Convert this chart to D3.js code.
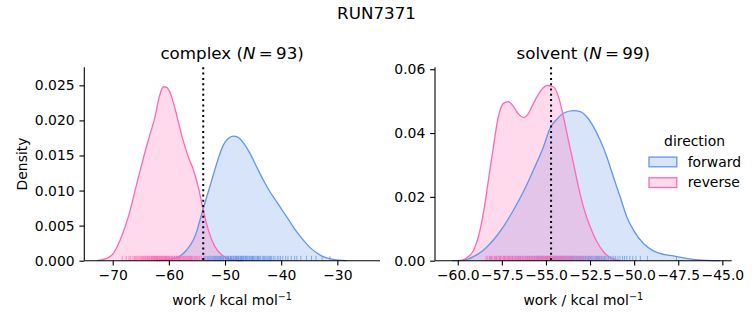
<!DOCTYPE html>
<html><head><meta charset="utf-8">
<script src="https://cdn.jsdelivr.net/npm/d3@7"></script>
<style>
body{margin:0;background:#fff}
svg{display:block}
text{font-family:"DejaVu Sans",sans-serif;fill:#000}
</style>
</head><body>
<svg id="chart" width="753" height="325"></svg>
<script>
// ---------------- data ----------------
const suptitle = "RUN7371";
const directions = ["forward", "reverse"];
const phases = ["complex", "solvent"];
const phaseN = [93, 99];

const complexXTicks = [-70, -60, -50, -40, -30];
const complexYTicks = [0, 0.005, 0.010, 0.015, 0.020, 0.025];
const solventXTicks = [-60, -57.5, -55, -52.5, -50, -47.5, -45];
const solventYTicks = [0, 0.02, 0.04, 0.06];

// dotted vertical marker (work estimate)
const complexMarker = -53.88;
const solventMarker = -54.71;

// KDE curves: [work, density]
const complexForwardKDE = [
  [-62.17,0],[-60.39,0.00019],[-59.2,0.00029],[-58.02,0.00067],[-56.83,0.00152],[-55.65,0.00295],
  [-55.05,0.00414],[-54.46,0.0058],[-53.87,0.00746],[-52.98,0.00983],[-52.09,0.01221],[-51.2,0.01458],
  [-50.31,0.01648],[-49.43,0.01743],[-48.53,0.01777],[-47.65,0.01758],[-46.75,0.01682],[-45.56,0.0153],
  [-44.38,0.0134],[-43.19,0.0115],[-42.0,0.00983],[-40.82,0.00841],[-39.63,0.00698],[-38.45,0.00556],
  [-37.26,0.00413],[-36.07,0.00295],[-34.89,0.0019],[-33.7,0.00114],[-32.51,0.00057],[-30.74,0.00019],
  [-28.36,0]
];
const complexReverseKDE = [
  [-72.85,0],[-71.07,0.00033],[-69.88,0.00105],[-68.7,0.0029],[-67.81,0.0048],[-66.92,0.0071],
  [-66.03,0.0100],[-65.14,0.0128],[-64.25,0.0155],[-63.36,0.0180],[-62.47,0.0205],[-61.7,0.0234],
  [-60.98,0.0248],[-60.39,0.0247],[-59.8,0.0240],[-58.91,0.0217],[-57.72,0.0179],[-56.54,0.0148],
  [-55.65,0.0130],[-54.76,0.0105],[-53.87,0.0072],[-52.98,0.0044],[-51.79,0.0020],[-50.31,0.00067],
  [-48.53,0.0001],[-46.75,0]
];
const solventForwardKDE = [
  [-60.34,0],[-59.68,0.0002],[-59.11,0.0013],[-58.55,0.0033],[-57.98,0.0065],[-57.41,0.0107],
  [-56.84,0.0159],[-56.28,0.0216],[-55.71,0.0284],[-55.14,0.0357],[-54.77,0.0415],[-54.39,0.0443],
  [-54.01,0.0462],[-53.44,0.0470],[-53.06,0.0467],[-52.69,0.0451],[-52.31,0.0420],[-51.93,0.0378],
  [-51.55,0.0326],[-51.18,0.0263],[-50.8,0.0201],[-50.42,0.0138],[-50.04,0.0096],[-49.47,0.0054],
  [-48.91,0.0031],[-48.34,0.0020],[-47.77,0.0015],[-47.21,0.0009],[-46.64,0.0004],[-45.88,0.0001],
  [-45.13,0]
];
const solventReverseKDE = [
  [-59.77,0],[-59.4,0.0013],[-59.1,0.0033],[-58.83,0.0075],[-58.55,0.0148],[-58.26,0.0253],
  [-57.98,0.0357],[-57.7,0.0451],[-57.41,0.0493],[-57.13,0.0498],[-56.84,0.0483],[-56.56,0.0460],
  [-56.28,0.0449],[-55.99,0.0462],[-55.71,0.0493],[-55.33,0.0530],[-54.95,0.0549],[-54.58,0.0545],
  [-54.29,0.0514],[-54.01,0.0451],[-53.73,0.0378],[-53.44,0.0305],[-53.16,0.0232],[-52.88,0.0169],
  [-52.5,0.0107],[-52.12,0.0060],[-51.74,0.0028],[-51.36,0.0010],[-50.8,0]
];

// individual work values (rug)
const complexForwardWork = [
  -53.7,-53.4,-53.1,-52.9,-52.7,-52.5,-52.3,-52.1,-51.9,-51.7,-51.5,-51.3,-51.2,-51.05,
  -50.9,-50.8,-50.6,-50.5,-50.3,-50.2,-49.9,-49.8,-49.6,-49.5,-49.4,-49.3,-49.1,-49.02,
  -48.9,-48.8,-48.6,-48.5,-48.4,-48.2,-48.1,-48.02,-47.9,-47.8,-47.6,-47.5,-47.3,-47.2,-47.1,-47.02,
  -46.9,-46.7,-46.6,-46.4,-46.3,-46.2,-46.05,-45.9,-45.7,-45.6,-45.4,-45.3,-45.1,-45.02,
  -44.9,-44.7,-44.5,-44.3,-44.2,-44.05,-43.9,-43.7,-43.4,-43.2,-43.05,-42.9,-42.7,-42.5,-42.3,-42.1,
  -41.9,-41.7,-41.4,-41.1,-40.7,-40.4,-40.1,-39.7,-39.2,-38.8,-38.2,-37.6,-37.2,-36.5,-35.5,-34.6,
  -33.8,-32.7,-31.3
];
const complexReverseWork = [
  -68.3,-67.6,-67.1,-66.8,-66.4,-66.1,-65.9,-65.7,-65.5,-65.3,-65.1,-64.9,-64.7,-64.5,-64.3,-64.2,-64.05,
  -63.9,-63.8,-63.6,-63.5,-63.4,-63.2,-63.1,-63.05,-62.9,-62.8,-62.7,-62.6,-62.55,-62.4,-62.3,-62.2,-62.1,-62.05,
  -61.95,-61.8,-61.7,-61.6,-61.5,-61.4,-61.3,-61.2,-61.1,-61.05,-60.9,-60.8,-60.7,-60.65,-60.6,-60.5,-60.4,
  -60.3,-60.2,-60.1,-60.02,-59.9,-59.8,-59.6,-59.5,-59.4,-59.3,-59.1,-59.0,-58.9,-58.7,-58.6,-58.5,-58.3,
  -58.2,-58.1,-58.0,-57.9,-57.7,-57.5,-57.4,-57.2,-57.0,-56.9,-56.7,-56.5,-56.3,-56.2,-56.0,-55.9,-55.7,
  -55.4,-55.2,-55.0,-54.8,-54.5,-54.2,-53.6
];
const solventForwardWork = [
  -58.1,-57.8,-57.6,-57.35,-57.1,-56.9,-56.7,-56.55,-56.45,-56.3,-56.15,-56.05,-55.95,-55.85,-55.75,
  -55.65,-55.55,-55.47,-55.4,-55.33,-55.26,-55.19,-55.12,-55.05,-54.97,-54.9,-54.84,-54.78,-54.71,
  -54.65,-54.58,-54.52,-54.47,-54.42,-54.36,-54.31,-54.25,-54.2,-54.14,-54.08,-54.03,-53.97,-53.92,
  -53.86,-53.81,-53.75,-53.69,-53.63,-53.57,-53.52,-53.47,-53.42,-53.36,-53.3,-53.25,-53.19,-53.13,
  -53.08,-53.02,-52.97,-52.91,-52.86,-52.8,-52.74,-52.68,-52.62,-52.57,-52.52,-52.46,-52.4,-52.33,
  -52.27,-52.2,-52.14,-52.08,-52.02,-51.96,-51.89,-51.82,-51.75,-51.68,-51.61,-51.54,-51.45,-51.35,
  -51.25,-51.15,-51.05,-50.92,-50.8,-50.66,-50.55,-50.42,-50.25,-50.08,-49.9,-49.65,-49.25,-47.6
];
const solventReverseWork = [
  -58.4,-58.3,-58.2,-58.15,-58.05,-57.95,-57.9,-57.85,-57.8,-57.7,-57.65,-57.6,-57.55,
  -57.48,-57.42,-57.38,-57.33,-57.28,-57.22,-57.17,-57.12,-57.07,-57.02,
  -56.97,-56.92,-56.86,-56.8,-56.75,-56.68,-56.62,-56.57,-56.52,
  -56.46,-56.41,-56.35,-56.3,-56.24,-56.18,-56.12,-56.07,-56.02,
  -55.97,-55.92,-55.86,-55.8,-55.75,-55.69,-55.63,-55.58,-55.52,
  -55.47,-55.42,-55.37,-55.32,-55.27,-55.22,-55.17,-55.12,-55.07,-55.02,
  -54.98,-54.94,-54.9,-54.85,-54.8,-54.75,-54.7,-54.65,-54.6,-54.55,-54.51,
  -54.47,-54.42,-54.37,-54.32,-54.27,-54.22,-54.17,-54.12,-54.07,-54.02,
  -53.95,-53.88,-53.8,-53.73,-53.66,-53.59,-53.52,-53.45,-53.35,-53.25,-53.15,-53.05,
  -52.9,-52.75,-52.6,-52.4,-52.15,-51.85
];

// ---------------- drawing ----------------
const color = {forward: "#6495ED", reverse: "#FF69B4"};
const svg = d3.select("#chart");
const FS = 13.9;

svg.append("text").attr("x", 376.5).attr("y", 19).attr("text-anchor", "middle")
  .style("font-size", "16.7px").text(suptitle);

const panels = [
  {name: phases[0], N: phaseN[0], x0: 84.3, x1: 380, xDom: [-75.06, -22.4], yDom: [0, 0.02757],
   xTicks: complexXTicks, yTicks: complexYTicks, xFmt: d3.format(".0f"), yFmt: d3.format(".3f"),
   kde: {forward: complexForwardKDE, reverse: complexReverseKDE},
   rug: {forward: complexForwardWork, reverse: complexReverseWork}, marker: complexMarker},
  {name: phases[1], N: phaseN[1], x0: 435, x1: 731.7, xDom: [-61.29, -44.47], yDom: [0, 0.0606],
   xTicks: solventXTicks, yTicks: solventYTicks, xFmt: d3.format(".1f"), yFmt: d3.format(".2f"),
   kde: {forward: solventForwardKDE, reverse: solventReverseKDE},
   rug: {forward: solventForwardWork, reverse: solventReverseWork}, marker: solventMarker}
];
const yTop = 67.3, yBot = 260.7;

panels.forEach((p, pi) => {
  const x = d3.scaleLinear().domain(p.xDom).range([p.x0, p.x1]);
  const y = d3.scaleLinear().domain(p.yDom).range([yBot, yTop]);
  const g = svg.append("g");

  const area = d3.area().x(d => x(d[0])).y0(y(0)).y1(d => y(d[1])).curve(d3.curveMonotoneX);
  const line = d3.line().x(d => x(d[0])).y(d => y(d[1])).curve(d3.curveMonotoneX);

  directions.forEach(dir => {
    g.append("path").datum(p.kde[dir]).attr("d", area)
      .attr("fill", color[dir]).attr("fill-opacity", 0.25).attr("stroke", "none");
  });
  directions.forEach(dir => {
    g.append("path").datum(p.kde[dir]).attr("d", line)
      .attr("fill", "none").attr("stroke", color[dir]).attr("stroke-width", 1.3);
  });

  // rug
  const rugH = 0.025 * (yBot - yTop);
  directions.forEach(dir => {
    g.append("g").selectAll("line").data(p.rug[dir]).join("line")
      .attr("x1", d => x(d)).attr("x2", d => x(d))
      .attr("y1", yBot).attr("y2", yBot - rugH)
      .attr("stroke", color[dir]).attr("stroke-width", 1).attr("stroke-opacity", 0.75);
  });

  // dotted marker
  g.append("line").attr("x1", x(p.marker)).attr("x2", x(p.marker))
    .attr("y1", yTop).attr("y2", yBot)
    .attr("stroke", "#000").attr("stroke-width", 2).attr("stroke-dasharray", "2,3.3");

  // axes
  const xAxis = d3.axisBottom(x).tickValues(p.xTicks).tickFormat(p.xFmt).tickSizeOuter(0).tickSize(4.86).tickPadding(4.86);
  const yAxis = d3.axisLeft(y).tickValues(p.yTicks).tickFormat(p.yFmt).tickSizeOuter(0).tickSize(4.86).tickPadding(4.86);
  const gx = svg.append("g").attr("transform", `translate(0,${yBot})`).call(xAxis);
  const gy = svg.append("g").attr("transform", `translate(${p.x0},0)`).call(yAxis);
  [gx, gy].forEach(a => {
    a.select(".domain").attr("stroke", "#000").attr("stroke-width", 1.1);
    a.selectAll(".tick line").attr("stroke", "#000").attr("stroke-width", 1.1);
    a.selectAll(".tick text").style("font-size", FS + "px").style("font-family", "DejaVu Sans").attr("fill", "#000");
  });
  gx.select(".domain").attr("d", `M${p.x0},0H${p.x1}`);
  gy.select(".domain").attr("d", `M0,${yBot}V${yTop}`);

  // title
  const cx = (p.x0 + p.x1) / 2;
  const t = svg.append("text").attr("x", cx).attr("y", 59).attr("text-anchor", "middle").style("font-size", "16.7px");
  t.append("tspan").text(p.name + " (");
  t.append("tspan").style("font-style", "italic").text("N");
  t.append("tspan").text("\u2009=\u2009" + p.N + ")");

  // x label
  const xl = svg.append("text").attr("x", cx).attr("y", 305).attr("text-anchor", "middle").style("font-size", FS + "px");
  xl.append("tspan").text("work / kcal mol");
  xl.append("tspan").attr("dy", -5.5).style("font-size", "9.7px").text("\u22121");

  if (pi === 0) {
    svg.append("text").attr("transform", `translate(26.5,${(yTop + yBot) / 2}) rotate(-90)`)
      .attr("text-anchor", "middle").style("font-size", FS + "px").text("Density");
  }
});

// legend
const lg = svg.append("g");
lg.append("text").attr("x", 694.5).attr("y", 146).attr("text-anchor", "middle").style("font-size", FS + "px").text("direction");
directions.forEach((dir, i) => {
  const yc = 162 + i * 20.7;
  lg.append("rect").attr("x", 649).attr("y", yc - 4.9).attr("width", 27.8).attr("height", 9.7)
    .attr("fill", color[dir]).attr("fill-opacity", 0.25).attr("stroke", color[dir]).attr("stroke-width", 1.3);
  lg.append("text").attr("x", 687.7).attr("y", yc + 4.6).style("font-size", FS + "px").text(dir);
});
</script>
</body></html>
